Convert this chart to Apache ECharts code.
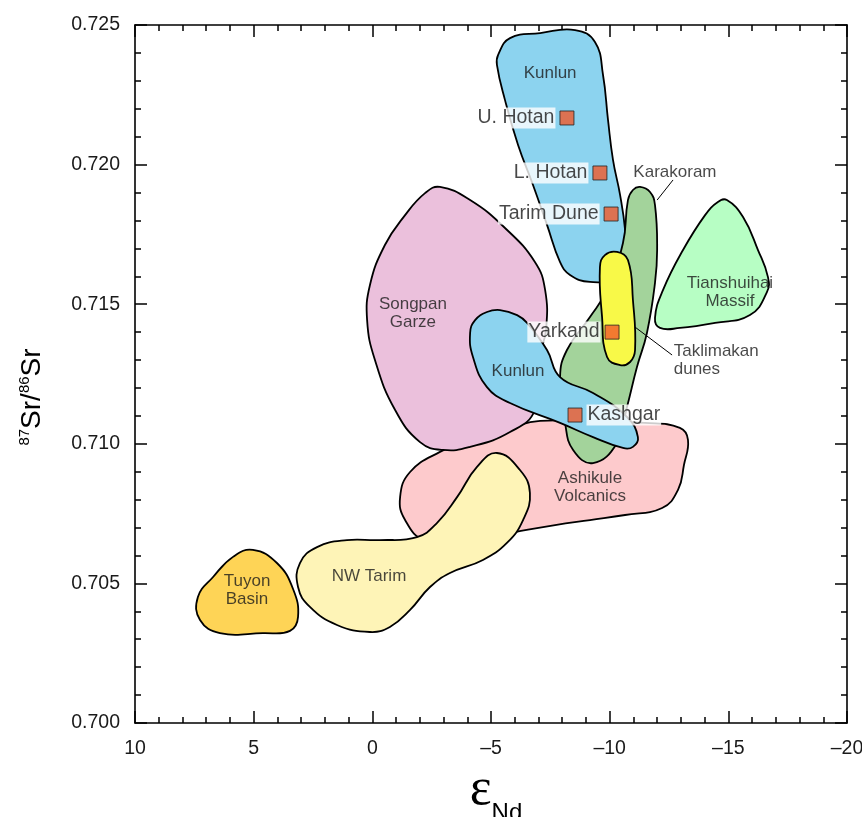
<!DOCTYPE html>
<html>
<head>
<meta charset="utf-8">
<script src="https://cdn.jsdelivr.net/npm/echarts@6/dist/echarts.min.js"></script>
<style>
  html, body { margin: 0; padding: 0; background: #fff; width: 100%; height: 100%; overflow: hidden; }
  #chart { width: 100%; height: 100%; }
</style>
</head>
<body>
<div id="chart"></div>
<script>
// ---- Data (εNd, 87Sr/86Sr) ----
const xTicks = [10, 5, 0, -5, -10, -15, -20];
const yTicks = [0.700, 0.705, 0.710, 0.715, 0.720, 0.725];

const songpanGarze = [[-2.85,0.71920],[-4.12,0.71873],[-5.59,0.71773],[-6.85,0.71651],[-7.28,0.71551],[-7.32,0.71408],[-7.07,0.71318],[-6.85,0.71121],[-5.80,0.71042],[-4.12,0.70989],[-2.98,0.70978],[-2.01,0.71006],[-0.96,0.71121],[-0.11,0.71300],[0.22,0.71443],[0.10,0.71569],[-0.53,0.71712],[-1.38,0.71819],[-2.22,0.71898]];
const ashikule = [[-2.85,0.70971],[-4.12,0.71014],[-5.80,0.71057],[-7.07,0.71082],[-9.59,0.71078],[-11.49,0.71075],[-12.96,0.71057],[-13.30,0.71014],[-13.13,0.70924],[-12.88,0.70835],[-12.21,0.70770],[-10.65,0.70745],[-9.17,0.70727],[-7.70,0.70709],[-6.01,0.70684],[-4.12,0.70655],[-2.22,0.70655],[-1.38,0.70727],[-1.17,0.70809],[-1.59,0.70899]];
const nwTarim = [[-5.25,0.70967],[-6.22,0.70906],[-6.64,0.70824],[-6.35,0.70727],[-5.67,0.70645],[-4.66,0.70584],[-3.27,0.70537],[-2.43,0.70487],[-1.59,0.70405],[-0.74,0.70344],[0.10,0.70326],[1.49,0.70351],[2.63,0.70416],[3.13,0.70487],[3.05,0.70573],[2.33,0.70630],[1.07,0.70655],[-0.32,0.70655],[-1.88,0.70666],[-2.72,0.70716],[-3.57,0.70809],[-4.41,0.70917]];
const tuyonBasin = [[5.03,0.70620],[4.02,0.70573],[3.34,0.70480],[3.13,0.70380],[3.47,0.70330],[4.61,0.70322],[6.42,0.70322],[7.26,0.70369],[7.35,0.70451],[6.71,0.70523],[5.87,0.70595]];
const kunlunUpper = [[-5.30,0.72393],[-5.80,0.72453],[-7.07,0.72471],[-8.54,0.72482],[-9.38,0.72439],[-9.72,0.72321],[-9.93,0.72160],[-10.14,0.72017],[-10.44,0.71891],[-10.65,0.71766],[-10.69,0.71658],[-10.35,0.71594],[-9.17,0.71580],[-8.33,0.71605],[-7.91,0.71651],[-7.36,0.71784],[-6.77,0.71927],[-6.14,0.72070],[-5.59,0.72231],[-5.25,0.72357]];
const karakoram = [[-10.98,0.71909],[-11.28,0.71920],[-11.70,0.71902],[-11.91,0.71855],[-12.00,0.71694],[-11.91,0.71576],[-11.57,0.71397],[-11.15,0.71275],[-10.73,0.71132],[-10.31,0.71003],[-9.30,0.70931],[-8.46,0.70978],[-8.12,0.71075],[-7.91,0.71239],[-8.20,0.71336],[-9.17,0.71454],[-9.89,0.71551],[-10.56,0.71719],[-10.77,0.71873]];
const tianshuihai = [[-14.94,0.71873],[-15.62,0.71812],[-16.25,0.71694],[-16.67,0.71597],[-16.63,0.71544],[-15.91,0.71461],[-14.44,0.71433],[-12.96,0.71415],[-12.12,0.71415],[-11.91,0.71451],[-12.25,0.71551],[-13.09,0.71694],[-14.02,0.71819],[-14.56,0.71866]];
const taklimakan = [[-9.80,0.71676],[-10.31,0.71687],[-10.77,0.71658],[-10.98,0.71515],[-11.07,0.71336],[-10.86,0.71293],[-10.44,0.71282],[-9.89,0.71311],[-9.68,0.71454],[-9.59,0.71633]];
const kunlunLower = [[-4.83,0.71472],[-5.38,0.71479],[-6.10,0.71461],[-6.52,0.71433],[-7.36,0.71336],[-7.91,0.71239],[-9.30,0.71182],[-10.73,0.71096],[-11.19,0.71024],[-10.98,0.70989],[-10.56,0.70985],[-9.30,0.71024],[-7.91,0.71075],[-5.80,0.71146],[-4.83,0.71203],[-4.24,0.71311],[-4.12,0.71397],[-4.33,0.71443]];

const regionLabelText = ['Kunlun', 'Karakoram', 'Tianshuihai\nMassif', 'Songpan\nGarze', 'Kunlun', 'Ashikule\nVolcanics', 'NW Tarim', 'Tuyon\nBasin'];
const regionLabelX = [-7.49, -12.75, -15.07, -1.71, -6.14, -9.17, 0.14, 5.28];
const regionLabelY = [0.72328, 0.71973, 0.71544, 0.71468, 0.71261, 0.70845, 0.70527, 0.70476];
const taklimakanLabelText = 'Taklimakan\ndunes';
const taklimakanLabelPos = [-12.70, 0.71300];

const karakoramLeader = [[-12.00, 0.71873], [-12.67, 0.71945]];
const taklimakanLeader = [[-11.07, 0.71418], [-12.63, 0.71318]];

const sampleNames = ['U. Hotan', 'L. Hotan', 'Tarim Dune', 'Yarkand', 'Kashgar'];
const sampleEpsNd = [-8.20, -9.59, -10.06, -10.10, -8.54];
const sampleSr = [0.72167, 0.71970, 0.71823, 0.71400, 0.71103];
const sampleLabelSide = ['left', 'left', 'left', 'left', 'right'];

// ---- Chart ----
const FONT = 'Liberation Sans, Arial, Helvetica, sans-serif';
const chart = echarts.init(document.getElementById('chart'), null, { renderer: 'canvas' });

function region(pts, color) {
  return {
    type: 'custom',
    coordinateSystem: 'cartesian2d',
    data: pts,
    encode: { x: 0, y: 1 },
    silent: true,
    clip: false,
    renderItem: function (params, api) {
      if (params.dataIndex !== 0) return null;
      return {
        type: 'polygon',
        shape: { points: pts.map(function (p) { return api.coord(p); }), smooth: 0.45 },
        style: { fill: color, stroke: '#000', lineWidth: 1.8 }
      };
    }
  };
}

function leader(pts) {
  return {
    type: 'line', data: pts, symbol: 'none', silent: true,
    lineStyle: { color: '#000', width: 1 }, z: 3
  };
}

const axisCommon = {
  axisLine: { show: true, onZero: false, lineStyle: { color: '#000', width: 1.6 } },
  axisTick: { show: true, inside: true, length: 12, lineStyle: { color: '#000', width: 1.5 } },
  minorTick: { show: true, splitNumber: 5, length: 6, lineStyle: { color: '#000', width: 1.5 } },
  splitLine: { show: false },
  minorSplitLine: { show: false }
};

function fmtX(v) {
  return v < 0 ? '\u2013' + Math.abs(v) : String(v);
}

const option = {
  animation: false,
  backgroundColor: '#fff',
  grid: { left: 135, right: 15, top: 25, bottom: 94, containLabel: false, outerBoundsMode: 'none' },
  xAxis: [
    Object.assign({
      type: 'value', min: xTicks[xTicks.length - 1], max: xTicks[0], interval: 5, inverse: true,
      position: 'bottom',
      axisLabel: { show: true, margin: 16, fontSize: 19.5, color: '#1a1a1a', fontFamily: FONT, formatter: fmtX },
      name: '{eps|\u03b5}{nd|Nd}',
      nameLocation: 'middle',
      nameGap: 36,
      nameTextStyle: {
        rich: {
          eps: { fontSize: 52, fontFamily: 'Liberation Serif, DejaVu Serif, serif', color: '#000', lineHeight: 50, padding: [0, 0, 0, 10] },
          nd: { fontSize: 24, fontFamily: FONT, color: '#000', verticalAlign: 'bottom', padding: [0, 0, -10, 0] }
        }
      }
    }, axisCommon),
    Object.assign({
      type: 'value', min: xTicks[xTicks.length - 1], max: xTicks[0], interval: 5, inverse: true,
      position: 'top', axisLabel: { show: false }
    }, axisCommon)
  ],
  yAxis: [
    Object.assign({
      type: 'value', min: yTicks[0], max: yTicks[yTicks.length - 1], interval: 0.005,
      position: 'left',
      axisLabel: { show: true, margin: 15, fontSize: 19.5, color: '#1a1a1a', fontFamily: FONT,
        formatter: function (v) { return v.toFixed(3); } },
      name: '{sup|87}{sr|Sr/}{sup|86}{sr|Sr}',
      nameLocation: 'middle',
      nameRotate: 90,
      nameGap: 88,
      nameTextStyle: {
        padding: [0, 46, 0, 0],
        rich: {
          sr: { fontSize: 28, fontFamily: FONT, color: '#000', lineHeight: 30 },
          sup: { fontSize: 15, fontFamily: FONT, color: '#000', verticalAlign: 'top', lineHeight: 14 }
        }
      }
    }, axisCommon),
    Object.assign({
      type: 'value', min: yTicks[0], max: yTicks[yTicks.length - 1], interval: 0.005,
      position: 'right', axisLabel: { show: false }
    }, axisCommon)
  ],
  series: [
    region(ashikule, '#FDCACC'),
    region(songpanGarze, '#EBC0DC'),
    region(nwTarim, '#FEF4B7'),
    region(tuyonBasin, '#FED456'),
    region(kunlunUpper, '#8CD3EF'),
    region(karakoram, '#A3D39B'),
    region(tianshuihai, '#B7FEC4'),
    region(taklimakan, '#F8F948'),
    region(kunlunLower, '#8CD3EF'),
    leader(karakoramLeader),
    leader(taklimakanLeader),
    {
      type: 'scatter', silent: true, symbolSize: 0, z: 4,
      data: regionLabelText.map(function (t, i) { return { name: t, value: [regionLabelX[i], regionLabelY[i]] }; })
        .concat([{ name: taklimakanLabelText, value: taklimakanLabelPos,
          label: { align: 'left' } }]),
      label: {
        show: true, position: [0, 0], formatter: '{b}', fontSize: 17, lineHeight: 18,
        color: '#1a1a1a', fontFamily: FONT, align: 'center', verticalAlign: 'middle', overflow: 'none'
      }
    },
    {
      type: 'scatter', silent: true, symbol: 'rect', symbolSize: 14, z: 5,
      itemStyle: { color: '#F05A2A', borderColor: '#222', borderWidth: 1 },
      data: sampleNames.map(function (n, i) {
        return { name: n, value: [sampleEpsNd[i], sampleSr[i]],
          label: { position: sampleLabelSide[i] } };
      }),
      label: {
        show: true, formatter: '{b}', fontSize: 19.5, color: '#1a1a1a', fontFamily: FONT,
        distance: 4, backgroundColor: '#fff', padding: [1, 1, 0, 1]
      }
    }
  ]
};

chart.setOption(option);
window.addEventListener('resize', function () { chart.resize(); });
</script>
</body>
</html>
